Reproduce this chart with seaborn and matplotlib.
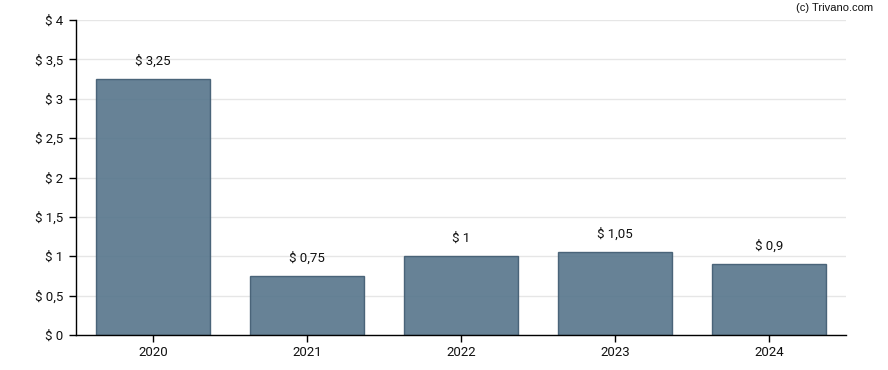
import matplotlib
matplotlib.use("Agg")
import matplotlib.pyplot as plt
import seaborn as sns
import pandas as pd

years = ["2020", "2021", "2022", "2023", "2024"]
values = [3.25, 0.75, 1.0, 1.05, 0.9]
yticks = [0, 0.5, 1, 1.5, 2, 2.5, 3, 3.5, 4]

def fmt(v):
    s = ("%.2f" % v).rstrip("0").rstrip(".")
    return "$ " + s.replace(".", ",")

sns.set_style("white")
plt.rcParams["font.family"] = ["Roboto", "DejaVu Sans"]

df = pd.DataFrame({"year": years, "value": values})

fig = plt.figure(figsize=(8.88, 3.70), dpi=100)
ax = fig.add_axes([76/888, 35/370, 770/888, 315/370])

ax.set_axisbelow(True)
ax.yaxis.grid(True, color="#e6e6e6", linewidth=1)
sns.barplot(data=df, x="year", y="value", ax=ax, color="#56758b", width=0.74,
            edgecolor="#3f5a70", linewidth=1, saturation=1, alpha=0.9)

for i, v in enumerate(values):
    ax.annotate(fmt(v), (i, v), xytext=(0, 8), textcoords="offset points",
                ha="center", va="bottom", fontsize=9.5, color="#111111")

ax.set_xlim(-0.5, 4.5)
ax.set_ylim(0, 4)
ax.set_yticks(yticks)
ax.set_yticklabels([fmt(t) for t in yticks])
ax.set_xlabel("")
ax.set_ylabel("")
for s in ["top", "right"]:
    ax.spines[s].set_visible(False)
for s in ["left", "bottom"]:
    ax.spines[s].set_color("black")
    ax.spines[s].set_linewidth(1)
ax.tick_params(axis="both", which="both", length=5, width=1, color="black",
               labelsize=9.5, labelcolor="#111111", direction="out", left=True, bottom=True)
ax.tick_params(axis="y", pad=4)
ax.tick_params(axis="x", pad=3)

fig.text(873/888, 1 - 8/370, "(c) Trivano.com", ha="right", va="center",
         fontsize=8, family=["Liberation Sans", "DejaVu Sans"], color="#111111")

fig.savefig("out.png", dpi=100)
